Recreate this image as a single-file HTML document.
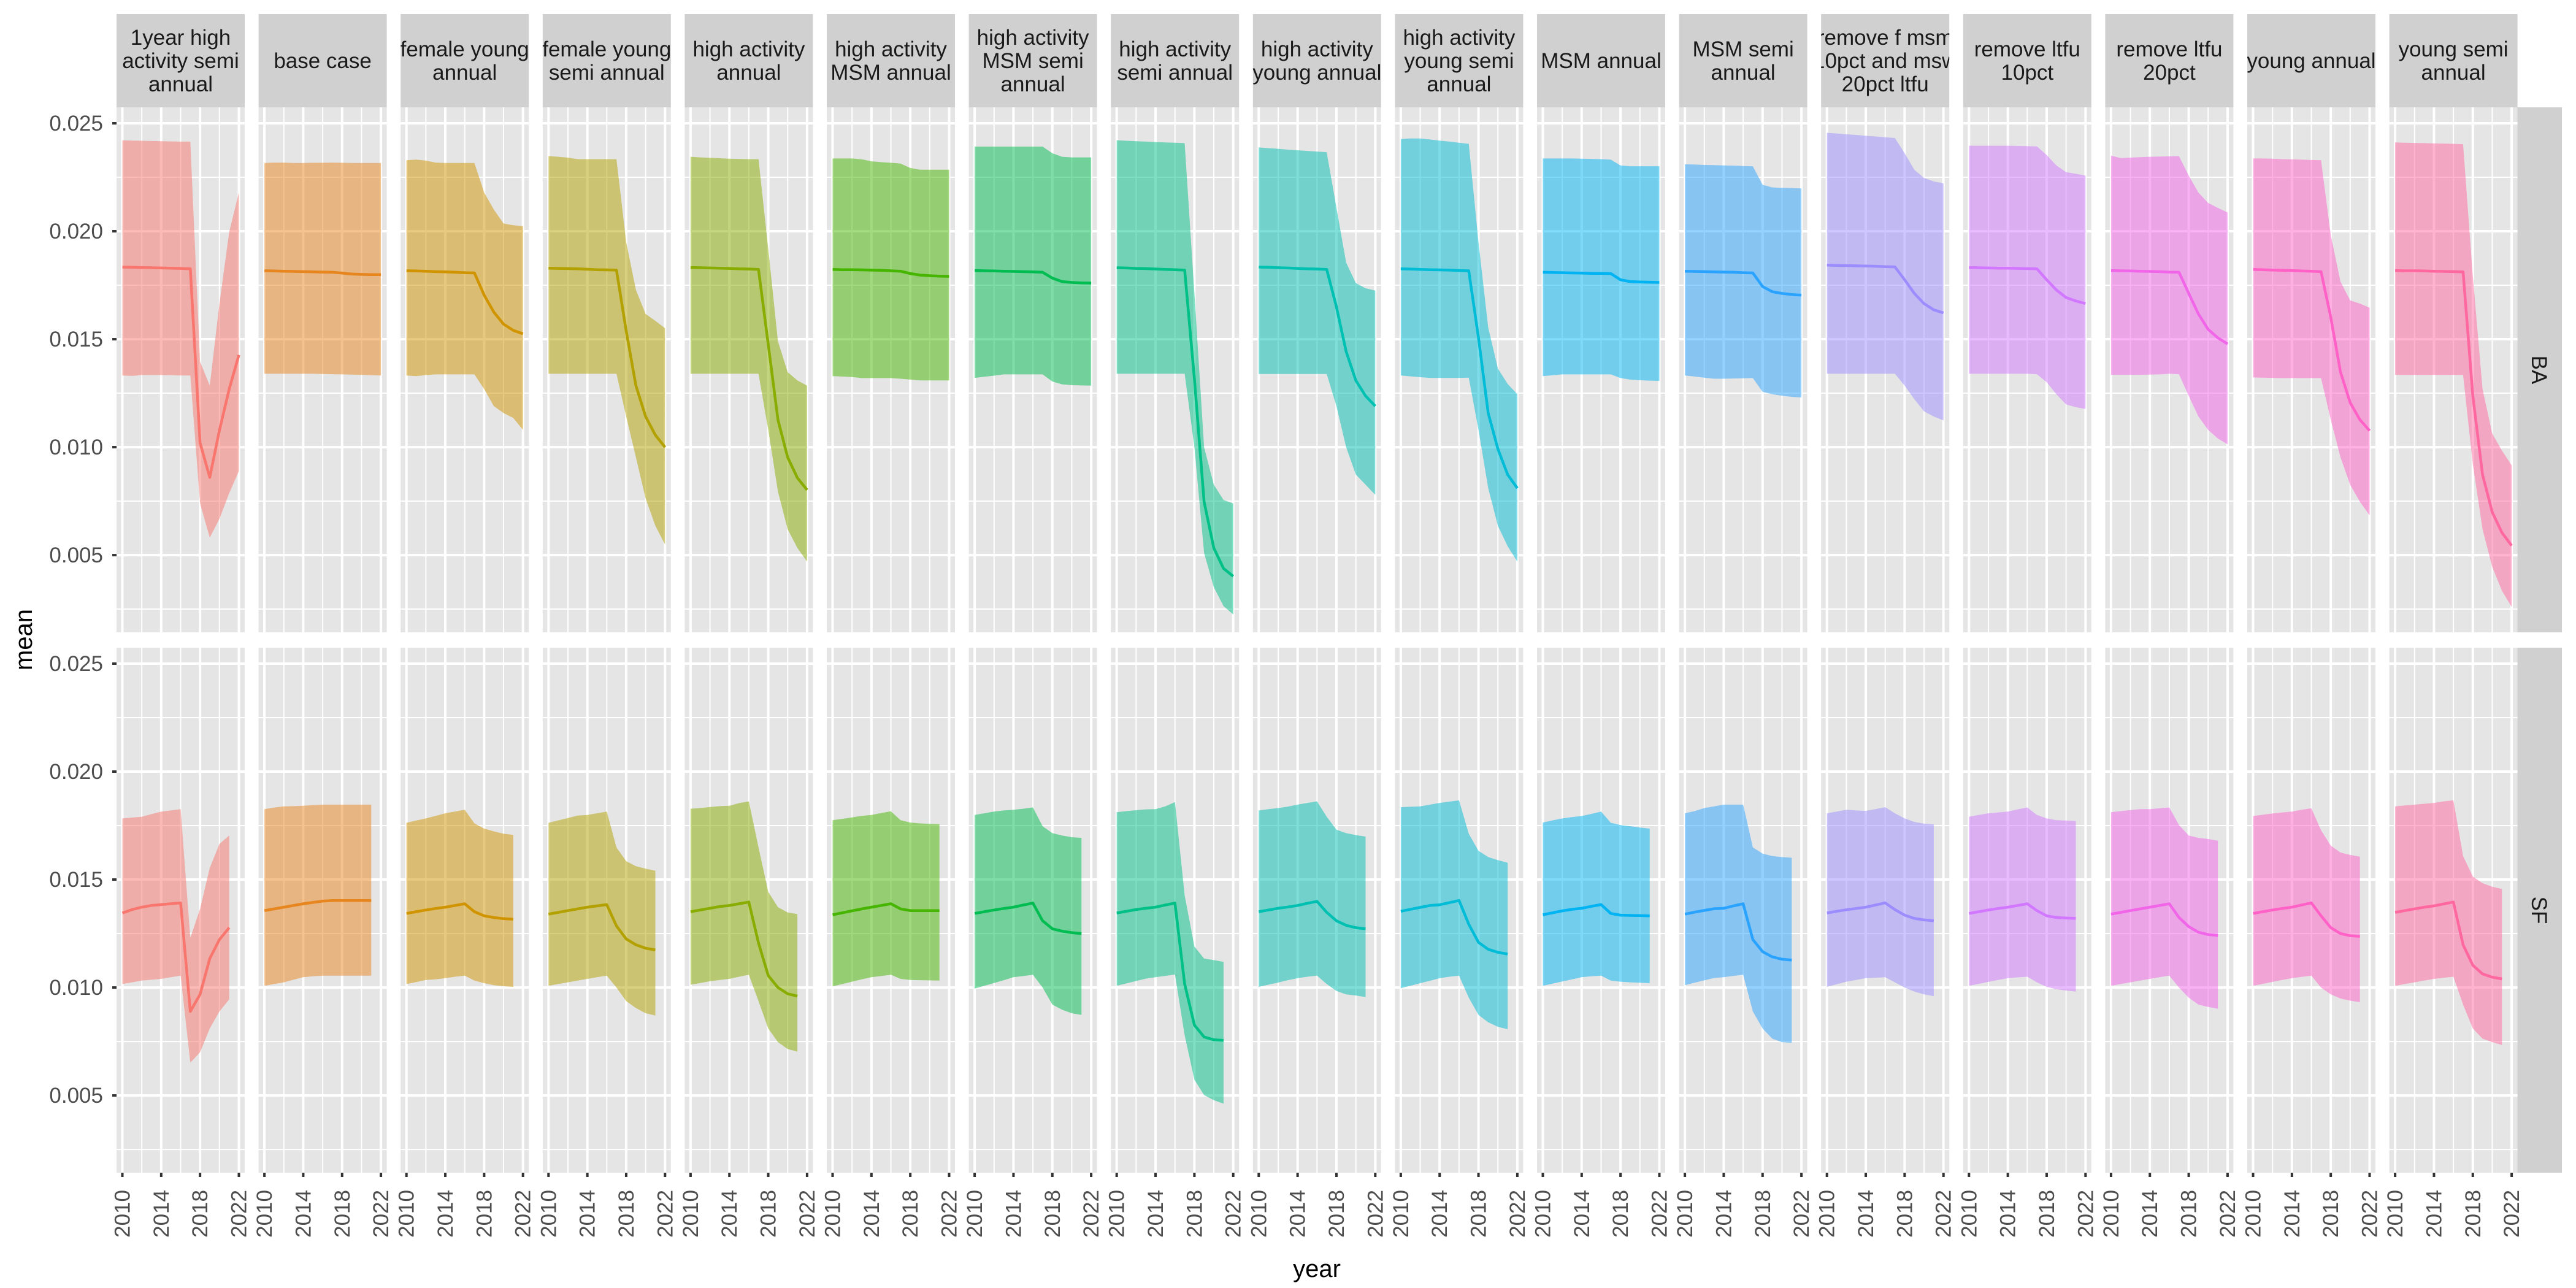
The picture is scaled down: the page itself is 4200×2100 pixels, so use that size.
<!DOCTYPE html>
<html><head><meta charset="utf-8"><title>mean by year</title>
<style>html,body{margin:0;padding:0;background:#fff;}svg{display:block;font-family:"Liberation Sans",Arial,sans-serif;}</style>
</head><body>
<svg id="chart" width="4200" height="2100" viewBox="0 0 4200 2100" xmlns="http://www.w3.org/2000/svg"></svg>
<script>
const scenarios = ["1year high|activity semi|annual","base case","female young|annual","female young|semi annual","high activity|annual","high activity|MSM annual","high activity|MSM semi|annual","high activity|semi annual","high activity|young annual","high activity|young semi|annual","MSM annual","MSM semi|annual","remove f msm|10pct and msw|20pct ltfu","remove ltfu|10pct","remove ltfu|20pct","young annual","young semi|annual"];
const rows = ["BA","SF"];
const yearsBA = [2010,2011,2012,2013,2014,2015,2016,2017,2018,2019,2020,2021,2022];
const yearsSF = [2010,2011,2012,2013,2014,2015,2016,2017,2018,2019,2020,2021];
const xTicks = [2010,2014,2018,2022];
const xMinor = [2012,2016,2020];
const yTicks = [0.005,0.010,0.015,0.020,0.025];
const yTickLabels = ["0.005","0.010","0.015","0.020","0.025"];
const yMinor = [0.0025,0.0075,0.0125,0.0175,0.0225];

const baMean = [
[.01834,.01833,.01832,.01831,.0183,.01829,.01828,.01826,.0102,.0086,.01079,.01269,.01427],
[.01817,.01816,.01815,.01814,.01813,.01812,.01811,.0181,.01806,.01802,.018,.01799,.01799],
[.01817,.01816,.01815,.01813,.01812,.0181,.01808,.01807,.01704,.01625,.0157,.01541,.01525],
[.01829,.01828,.01827,.01826,.01824,.01822,.01821,.0182,.01538,.01285,.01142,.01056,.01],
[.01832,.01831,.0183,.01829,.01828,.01826,.01825,.01823,.01475,.01127,.00953,.00858,.00802],
[.01823,.01822,.01822,.01821,.0182,.01819,.01817,.01815,.01804,.01797,.01794,.01792,.01791],
[.01818,.01817,.01816,.01815,.01814,.01813,.01812,.0181,.01783,.01767,.01763,.01761,.0176],
[.01831,.0183,.01828,.01827,.01825,.01823,.01822,.0182,.01317,.00747,.00533,.00438,.00402],
[.01834,.01833,.01831,.0183,.01828,.01826,.01825,.01823,.01649,.01443,.01309,.01237,.0119],
[.01826,.01825,.01823,.01822,.01821,.0182,.01818,.01817,.01506,.01158,.00992,.00873,.0081],
[.0181,.01809,.01808,.01807,.01806,.01805,.01805,.01804,.01775,.01767,.01765,.01764,.01763],
[.01815,.01814,.01813,.01812,.01811,.0181,.01808,.01807,.01744,.0172,.01712,.01707,.01704],
[.01843,.01842,.01841,.0184,.01839,.01838,.01836,.01835,.01775,.01712,.01665,.01636,.01622],
[.01832,.01831,.0183,.01829,.01829,.01828,.01827,.01826,.01775,.01728,.01693,.01677,.01665],
[.01818,.01817,.01816,.01815,.01814,.01813,.01811,.0181,.01712,.01617,.01546,.01506,.01478],
[.01823,.01822,.0182,.01819,.01818,.01816,.01815,.01813,.01601,.01348,.01206,.01127,.01076],
[.01818,.01817,.01817,.01816,.01815,.01814,.01813,.01812,.01237,.00873,.00699,.00604,.00544]];
const baHi = [
[.02421,.0242,.02419,.02418,.02417,.02416,.02415,.02415,.01396,.01285,.01665,.01997,.02179],
[.02316,.02318,.02318,.02316,.02316,.02317,.02317,.02318,.02317,.02316,.02316,.02316,.02316],
[.02329,.02332,.02327,.02318,.02316,.02316,.02316,.02316,.02179,.021,.02036,.02028,.02024],
[.02348,.02345,.02341,.02334,.02334,.02334,.02334,.02334,.01949,.01728,.01617,.01585,.01551],
[.02345,.02342,.0234,.02338,.02336,.02335,.02334,.02334,.01918,.0149,.01348,.01309,.01285],
[.02337,.02337,.02337,.02333,.02324,.0232,.02317,.02313,.02293,.02285,.02285,.02285,.02285],
[.02392,.02392,.02392,.02392,.02392,.02392,.02392,.02392,.02361,.02345,.02342,.02342,.02342],
[.02421,.02419,.02417,.02415,.02413,.02411,.0241,.02408,.01712,.01,.00826,.00755,.00739],
[.02388,.02385,.02382,.02378,.02375,.02372,.02369,.02366,.02108,.01855,.0176,.01736,.01725],
[.02427,.0243,.0243,.02425,.0242,.02415,.0241,.02405,.01949,.01554,.01364,.01293,.01245],
[.02337,.02337,.02337,.02337,.02336,.02335,.02334,.02332,.02305,.02301,.02301,.02301,.02301],
[.0231,.02309,.02307,.02306,.02305,.02304,.02302,.02301,.02215,.02203,.02201,.022,.02198],
[.02456,.02453,.02449,.02446,.02442,.02439,.02435,.02432,.02361,.02285,.02247,.02231,.02222],
[.02396,.02396,.02396,.02396,.02396,.02395,.02394,.02393,.02353,.02305,.02274,.02266,.02258],
[.0235,.02339,.02341,.02343,.02345,.02346,.02347,.02348,.02258,.02179,.02131,.02108,.02087],
[.02337,.02337,.02336,.02334,.02333,.02332,.0233,.02329,.01981,.01767,.0168,.01665,.01646],
[.02411,.0241,.02409,.02408,.02407,.02406,.02405,.02403,.01791,.01269,.01063,.00984,.00916]];
const baLo = [
[.01332,.0133,.01334,.01334,.01334,.01333,.01332,.01332,.00739,.00581,.00668,.00787,.00889],
[.0134,.0134,.0134,.0134,.0134,.0134,.01339,.01338,.01337,.01336,.01335,.01333,.01332],
[.01332,.01329,.01334,.01337,.01337,.01337,.01337,.01337,.01269,.0119,.01158,.01135,.0108],
[.0134,.0134,.0134,.0134,.0134,.0134,.0134,.0134,.01142,.00953,.00763,.00636,.00549],
[.0134,.0134,.0134,.0134,.0134,.0134,.0134,.0134,.0108,.00794,.0062,.00533,.0047],
[.01329,.01327,.01325,.0132,.0132,.0132,.0132,.01317,.01313,.01309,.01309,.01309,.01309],
[.01321,.01326,.01331,.01337,.01337,.01337,.01337,.01337,.01304,.01291,.01287,.01286,.01285],
[.0134,.0134,.0134,.0134,.0134,.0134,.0134,.0134,.01,.0051,.00352,.00264,.00225],
[.01339,.01339,.01339,.01339,.01339,.01339,.01339,.01339,.0119,.01,.00873,.00826,.00779],
[.01332,.01328,.01324,.01321,.01321,.01321,.01321,.01322,.0108,.0081,.00636,.00541,.0047],
[.01329,.01333,.01337,.01337,.01337,.01337,.01337,.01337,.0132,.01313,.0131,.01308,.01307],
[.01332,.01327,.01322,.01317,.01317,.01318,.01319,.0132,.01256,.01245,.01238,.01233,.0123],
[.0134,.0134,.0134,.0134,.0134,.0134,.0134,.0134,.01285,.01222,.01166,.01142,.01124],
[.0134,.0134,.0134,.0134,.0134,.0134,.0134,.01338,.01301,.01245,.01198,.01185,.01177],
[.01335,.01335,.01335,.01335,.01336,.01337,.0134,.01338,.01237,.01142,.0108,.0104,.01013],
[.01323,.01322,.01321,.0132,.0132,.0132,.0132,.0132,.01127,.00953,.00826,.00747,.00684],
[.01335,.01335,.01335,.01335,.01335,.01335,.01335,.01335,.00921,.0062,.00446,.00335,.0026]];

const sfMean = [
[.01345,.01361,.01372,.0138,.01384,.01388,.01392,.00889,.00968,.01134,.01222,.01277],
[.01356,.01364,.01372,.0138,.01388,.01394,.014,.01403,.01403,.01403,.01403,.01403],
[.01343,.01351,.01359,.01366,.01372,.0138,.01388,.01351,.01332,.01324,.01319,.01316],
[.0134,.01348,.01356,.01364,.01372,.01378,.01384,.01285,.01225,.01198,.01182,.01174],
[.01351,.01359,.01367,.01375,.0138,.01388,.01396,.01206,.01055,.01,.00971,.0096],
[.01337,.01346,.01355,.01364,.01372,.0138,.01388,.01364,.01356,.01356,.01356,.01356],
[.01343,.01351,.01359,.01366,.01372,.01382,.01391,.01309,.01272,.01261,.01254,.0125],
[.01345,.01353,.01361,.01367,.01372,.01382,.01391,.01016,.00826,.00771,.00758,.00755],
[.01351,.01359,.01367,.01373,.0138,.0139,.01399,.01348,.01309,.01288,.01277,.01272],
[.01353,.01362,.01371,.0138,.01383,.01393,.01403,.01293,.01209,.01177,.01163,.01155],
[.01337,.01346,.01355,.01362,.01367,.01376,.01384,.01343,.01335,.01334,.01333,.01332],
[.0134,.01349,.01357,.01365,.01367,.01378,.01388,.01222,.01166,.01142,.01131,.01127],
[.01345,.01353,.0136,.01366,.01372,.01382,.01392,.01361,.01335,.0132,.01313,.01309],
[.01343,.01351,.01359,.01366,.01372,.0138,.01388,.01356,.01332,.01324,.01322,.0132],
[.0134,.01348,.01356,.01364,.01372,.0138,.01388,.01324,.01282,.01256,.01245,.01241],
[.01343,.01351,.01359,.01366,.01372,.01382,.01392,.01332,.01277,.0125,.0124,.01237],
[.01348,.01356,.01364,.01372,.01378,.01387,.01396,.01198,.01103,.01063,.01048,.0104]];
const sfHi = [
[.01783,.01787,.01791,.01803,.01815,.0182,.01826,.01229,.01364,.01554,.01665,.01704],
[.01826,.01833,.01839,.0184,.01842,.01845,.01847,.01847,.01847,.01847,.01847,.01847],
[.01763,.01773,.01783,.01795,.01807,.01815,.01823,.0176,.01736,.01723,.01712,.01707],
[.01763,.01774,.01785,.01796,.01799,.01807,.01815,.01649,.01585,.01562,.0155,.01541],
[.01828,.01831,.01836,.0184,.01842,.01854,.01862,.01649,.01443,.01372,.01348,.0134],
[.01775,.01781,.01788,.01795,.01799,.01808,.01816,.01775,.01764,.0176,.01758,.01756],
[.01799,.01807,.01815,.0182,.01823,.01828,.01834,.01747,.01715,.01704,.01696,.01693],
[.01812,.01817,.01821,.01825,.01826,.01839,.01859,.01427,.0119,.01134,.01127,.01119],
[.0182,.01826,.01831,.01838,.01847,.01855,.01862,.01791,.01731,.01715,.01706,.01699],
[.01835,.01837,.01839,.01847,.01855,.01861,.01867,.01712,.01633,.01604,.0159,.01578],
[.01764,.01774,.01783,.01789,.01794,.01804,.01815,.01763,.01752,.01747,.01741,.01736],
[.01807,.01817,.01831,.01839,.01847,.01847,.01847,.01649,.0162,.01609,.01604,.01601],
[.01807,.01815,.01823,.0182,.01818,.01826,.01835,.01807,.01783,.01767,.01759,.01755],
[.01791,.01799,.01807,.01811,.01815,.01825,.01834,.01799,.01783,.01775,.01773,.01771],
[.01812,.01817,.01822,.01826,.01826,.0183,.01834,.01752,.01704,.01693,.01688,.0168],
[.01794,.018,.01806,.01811,.01815,.01823,.0183,.01728,.01657,.01625,.01614,.01606],
[.01839,.01843,.01847,.01851,.01855,.01862,.01867,.01609,.01514,.01483,.01467,.01456]];
const sfLo = [
[.01016,.01024,.01032,.01036,.0104,.01048,.01055,.00652,.007,.0081,.00889,.00945],
[.01008,.01016,.01024,.01036,.01048,.01052,.01055,.01055,.01055,.01055,.01055,.01055],
[.01016,.01025,.01035,.01038,.01043,.0105,.01055,.01032,.0102,.01011,.01006,.01003],
[.01008,.01016,.01024,.01032,.0104,.01048,.01055,.01,.00937,.00905,.00881,.0087],
[.01013,.01021,.01029,.01035,.0104,.0105,.01059,.00937,.0081,.00747,.00715,.00703],
[.01005,.01016,.01027,.01038,.01048,.01053,.01059,.0104,.01035,.01034,.01033,.01032],
[.00995,.01008,.01021,.01034,.01048,.01053,.01059,.01,.00921,.00897,.00881,.00873],
[.01008,.01019,.0103,.01041,.01048,.01054,.0106,.00779,.00573,.00502,.00478,.00462],
[.01003,.01013,.01023,.01034,.01043,.0105,.01055,.01016,.00984,.00968,.00963,.00956],
[.00997,.01008,.0102,.01031,.01043,.0105,.01055,.00953,.00873,.00839,.00818,.00807],
[.01008,.01018,.01028,.01038,.01048,.01052,.01055,.01032,.01027,.01024,.01022,.0102],
[.01011,.01022,.01033,.01044,.01048,.01054,.01059,.00889,.0081,.00763,.00747,.00744],
[.01003,.01015,.01027,.01035,.01043,.01045,.01048,.01024,.01,.00981,.00968,.0096],
[.01008,.01017,.01026,.01035,.01043,.01047,.0105,.01024,.01003,.00992,.00986,.00981],
[.01008,.01016,.01024,.01032,.0104,.01048,.01055,.01,.00953,.00921,.0091,.00902],
[.01008,.01017,.01026,.01035,.01043,.01049,.01055,.01,.00968,.00949,.00939,.00932],
[.01008,.01016,.01024,.01032,.0104,.01045,.0105,.00921,.0081,.00763,.00747,.00734]];

const NS = "http://www.w3.org/2000/svg";
const svg = document.getElementById("chart");
const PX0 = 190, PSTEP = 231.6, PW = 209;
const ROW_TOP = [175, 1056], PH = 856;
const XMIN = 2009.4, XMAX = 2022.6;
const YMIN = 0.001423, YMAX = 0.025739;
function xScale(i, yr){ return PX0 + i*PSTEP + (yr - XMIN)/(XMAX - XMIN)*PW; }
function yScale(r, v){ return ROW_TOP[r] + (YMAX - v)/(YMAX - YMIN)*PH; }

function hcl(h, c, l){
  const Xn=95.047,Yn=100,Zn=108.883;
  const un=4*Xn/(Xn+15*Yn+3*Zn), vn=9*Yn/(Xn+15*Yn+3*Zn);
  const hr=h*Math.PI/180, U=c*Math.cos(hr), V=c*Math.sin(hr);
  const Y=Yn*Math.pow((l+16)/116,3);
  const u=U/(13*l)+un, v=V/(13*l)+vn;
  const X=9*Y*u/(4*v), Z=-X/3-5*Y+3*Y/v;
  const x=X/100,y=Y/100,z=Z/100;
  let r=3.2404542*x-1.5371385*y-0.4985314*z, g=-0.969266*x+1.8760108*y+0.041556*z, b=0.0556434*x-0.2040259*y+1.0572252*z;
  const gam=t=>{t=t<=0.0031308?12.92*t:1.055*Math.pow(t,1/2.4)-0.055;return Math.round(Math.max(0,Math.min(1,t))*255);};
  return "rgb("+gam(r)+","+gam(g)+","+gam(b)+")";
}
function el(tag, attrs, parent){
  const e=document.createElementNS(NS,tag);
  for(const k in attrs) e.setAttribute(k,attrs[k]);
  (parent||svg).appendChild(e); return e;
}
const n = scenarios.length;
const colors = scenarios.map((s,i)=>hcl(15+i*360/n,100,65));
const defs = el("defs",{});

const yt = el("text",{x:52,y:1043,"font-size":40,fill:"#000","text-anchor":"middle",transform:"rotate(-90 52 1043)"});


yt.textContent="mean";
const xt = el("text",{x:2147,y:2082,"font-size":40,fill:"#000","text-anchor":"middle"});


xt.textContent="year";

rows.forEach((rowName,r)=>{
  const top=ROW_TOP[r];
  yTicks.forEach((t,k)=>{
    const y=yScale(r,t);
    const tk=el("line",{x1:183,x2:190,y1:y,y2:y,stroke:"#333","stroke-width":4});
    
    
    const lab=el("text",{x:168,y:y+12,"font-size":35,fill:"#4d4d4d","text-anchor":"end"});
    
    
    lab.textContent=yTickLabels[k];
  });
  const rs=el("rect",{x:4104,y:top,width:73,height:PH,fill:"#d0d0d0"});
  
  
  const cy=top+PH/2;
  const rt=el("text",{x:4128,y:cy,"font-size":35,fill:"#1a1a1a","text-anchor":"middle",transform:"rotate(90 4128 "+cy+")"});
  
  
  rt.textContent=rowName;

  scenarios.forEach((sc,i)=>{
    const px=PX0+i*PSTEP;
    const g=el("g",{});
    
    
    el("rect",{x:px,y:top,width:PW,height:PH,fill:"#e5e5e5"},g);
    yMinor.forEach(t=>{const y=yScale(r,t); if(y>top&&y<top+PH) el("line",{x1:px,x2:px+PW,y1:y,y2:y,stroke:"#fff","stroke-width":2},g);});
    xMinor.forEach(t=>{const x=xScale(i,t); el("line",{x1:x,x2:x,y1:top,y2:top+PH,stroke:"#fff","stroke-width":2},g);});
    yTicks.forEach(t=>{const y=yScale(r,t); el("line",{x1:px,x2:px+PW,y1:y,y2:y,stroke:"#fff","stroke-width":4},g);});
    xTicks.forEach(t=>{const x=xScale(i,t); el("line",{x1:x,x2:x,y1:top,y2:top+PH,stroke:"#fff","stroke-width":4},g);});
    const yrs = r===0?yearsBA:yearsSF;
    const mean = r===0?baMean[i]:sfMean[i];
    const hi = r===0?baHi[i]:sfHi[i];
    const lo = r===0?baLo[i]:sfLo[i];
    let d="";
    yrs.forEach((yr,k)=>{d+=(k?"L":"M")+xScale(i,yr).toFixed(1)+","+yScale(r,hi[k]).toFixed(1);});
    for(let k=yrs.length-1;k>=0;k--) d+="L"+xScale(i,yrs[k]).toFixed(1)+","+yScale(r,lo[k]).toFixed(1);
    d+="Z";
    const rib=el("path",{d:d,fill:colors[i],"fill-opacity":0.5,stroke:"none"},g);
    
    
    const pts=yrs.map((yr,k)=>xScale(i,yr).toFixed(1)+","+yScale(r,mean[k]).toFixed(1)).join(" ");
    const ln=el("polyline",{points:pts,fill:"none",stroke:colors[i],"stroke-width":4.5,"stroke-linejoin":"round"},g);
    
    

    if(r===0){
      const cp=el("clipPath",{id:"clip"+i},defs);
      el("rect",{x:px,y:23,width:PW,height:152},cp);
      const sr=el("rect",{x:px,y:23,width:PW,height:152,fill:"#d0d0d0"});
      
      
      const lines=sc.split("|");
      const st=el("text",{"font-size":35,fill:"#1a1a1a","text-anchor":"middle","clip-path":"url(#clip"+i+")"});
      
      
      lines.forEach((t,k)=>{
        const ts=el("tspan",{x:px+PW/2,y:99+(k-(lines.length-1)/2)*38+12},st);
        ts.textContent=t;
      });
    } else {
      xTicks.forEach(t=>{
        const x=xScale(i,t);
        const tk=el("line",{x1:x,x2:x,y1:1912,y2:1919,stroke:"#333","stroke-width":4});
        
        
        const lab=el("text",{x:x+12,y:1940,"font-size":35,fill:"#4d4d4d","text-anchor":"end",transform:"rotate(-90 "+(x+12)+" 1940)"});
        
        
        lab.textContent=String(t);
      });
    }
  });
});
</script>
</body></html>
